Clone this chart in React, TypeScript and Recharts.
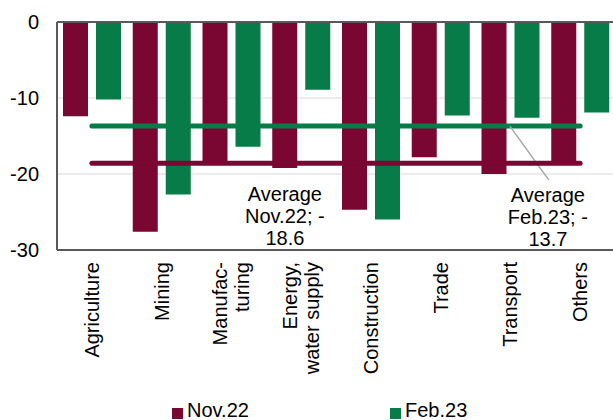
import React from "react";
import {
  Bar,
  CartesianGrid,
  ComposedChart,
  Legend,
  ReferenceLine,
  XAxis,
  YAxis,
} from "recharts";

const categories = [
  "Agriculture",
  "Mining",
  "Manufac-\nturing",
  "Energy,\nwater supply",
  "Construction",
  "Trade",
  "Transport",
  "Others",
];
const seriesNames = ["Nov.22", "Feb.23"];
const nov22 = [-12.4, -27.6, -18.7, -19.2, -24.7, -17.8, -20.0, -18.7];
const feb23 = [-10.2, -22.7, -16.4, -8.9, -26.0, -12.3, -12.6, -11.9];
const yTicks = [0, -10, -20, -30];
const boundaryTicks = [0, 1, 2, 3, 4, 5, 6, 7, 8];
const avgNov22 = -18.6;
const avgFeb23 = -13.7;

const MAROON = "#7a0632";
const GREEN = "#077c48";
const AXIS = "#595959";
const GRID = "#d9d9d9";
const FONT = "'Liberation Sans', Arial, sans-serif";

const data = categories.map((name, i) => ({ name, nov: nov22[i], feb: feb23[i] }));

function CategoryTick({ x, y, payload }: any) {
  const lines = String(payload.value).split("\n");
  return (
    <g transform={`translate(${x},${y + 4}) rotate(-90)`}>
      {lines.map((l, i) => (
        <text
          key={i}
          x={0}
          y={(i - (lines.length - 1) / 2) * 22 + 7}
          textAnchor="end"
          fill="#000"
          fontSize={20}
          fontFamily={FONT}
        >
          {l}
        </text>
      ))}
    </g>
  );
}

function AvgNote({ viewBox, lines, cx, dy, leader }: any) {
  if (!viewBox) return null;
  const { x, y } = viewBox;
  return (
    <g>
      {leader && (
        <line
          x1={x + leader[0]}
          y1={y + leader[1]}
          x2={x + leader[2]}
          y2={y + leader[3]}
          stroke="#a6a6a6"
          strokeWidth={1.5}
        />
      )}
      {lines.map((l: string, i: number) => (
        <text
          key={i}
          x={x + cx}
          y={y + dy + i * 22}
          textAnchor="middle"
          fill="#000"
          fontSize={20}
          fontFamily={FONT}
        >
          {l}
        </text>
      ))}
    </g>
  );
}

function LegendContent({ payload }: any) {
  const items = [...(payload || [])].sort(
    (a: any, b: any) => seriesNames.indexOf(a.value) - seriesNames.indexOf(b.value)
  );
  return (
    <div style={{ display: "flex", paddingLeft: 172, height: 22, fontFamily: FONT, fontSize: 20 }}>
      {items.map((p: any) => (
        <div key={p.value} style={{ display: "flex", alignItems: "center", width: 234 }}>
          <span style={{ width: 11, height: 11, background: p.color, marginRight: 4, marginTop: 6 }} />
          <span style={{ color: "#000" }}>{p.value}</span>
        </div>
      ))}
    </div>
  );
}

export default function App() {
  return (
    <div style={{ position: "absolute", left: 0, top: 0, width: 613, height: 420, overflow: "hidden", background: "#fff" }}>
      <ComposedChart
        width={620}
        height={420}
        data={data}
        margin={{ top: 16, right: 5, bottom: 0, left: 7 }}
        barGap={8}
      >
        <XAxis
          xAxisId="top"
          type="number"
          orientation="top"
          domain={[0, 8]}
          ticks={boundaryTicks}
          allowDataOverflow
          height={6}
          tick={false}
          tickSize={5}
          tickLine={{ stroke: AXIS, strokeWidth: 2 }}
          axisLine={{ stroke: AXIS, strokeWidth: 2 }}
        />
        <CartesianGrid xAxisId="top" stroke={GRID} strokeWidth={1} />
        <XAxis
          xAxisId="cat"
          dataKey="name"
          type="category"
          height={148}
          interval={0}
          tickLine={false}
          axisLine={{ stroke: AXIS, strokeWidth: 2 }}
          tick={<CategoryTick />}
        />
        <YAxis
          domain={[-30, 0]}
          ticks={yTicks}
          width={50}
          tickLine={false}
          tickMargin={12}
          axisLine={{ stroke: AXIS, strokeWidth: 2 }}
          tick={{ fill: "#000", fontSize: 20, fontFamily: FONT }}
        />
        <Legend verticalAlign="bottom" wrapperStyle={{ left: 0, bottom: -1 }} content={<LegendContent />} />
        <Bar xAxisId="cat" dataKey="nov" name={seriesNames[0]} fill={MAROON} barSize={25} isAnimationActive={false} />
        <Bar xAxisId="cat" dataKey="feb" name={seriesNames[1]} fill={GREEN} barSize={25} isAnimationActive={false} />
        <ReferenceLine
          xAxisId="cat"
          segment={[
            { x: categories[0], y: avgFeb23 },
            { x: categories[categories.length - 1], y: avgFeb23 },
          ]}
          stroke={GREEN}
          strokeWidth={5}
          strokeLinecap="round"
          label={<AvgNote lines={["Average", "Feb.23; -", "13.7"]} cx={456} dy={76} leader={[418, 0, 457, 54]} />}
        />
        <ReferenceLine
          xAxisId="cat"
          segment={[
            { x: categories[0], y: avgNov22 },
            { x: categories[categories.length - 1], y: avgNov22 },
          ]}
          stroke={MAROON}
          strokeWidth={5}
          strokeLinecap="round"
          label={<AvgNote lines={["Average", "Nov.22; -", "18.6"]} cx={193} dy={38} />}
        />
      </ComposedChart>
    </div>
  );
}
